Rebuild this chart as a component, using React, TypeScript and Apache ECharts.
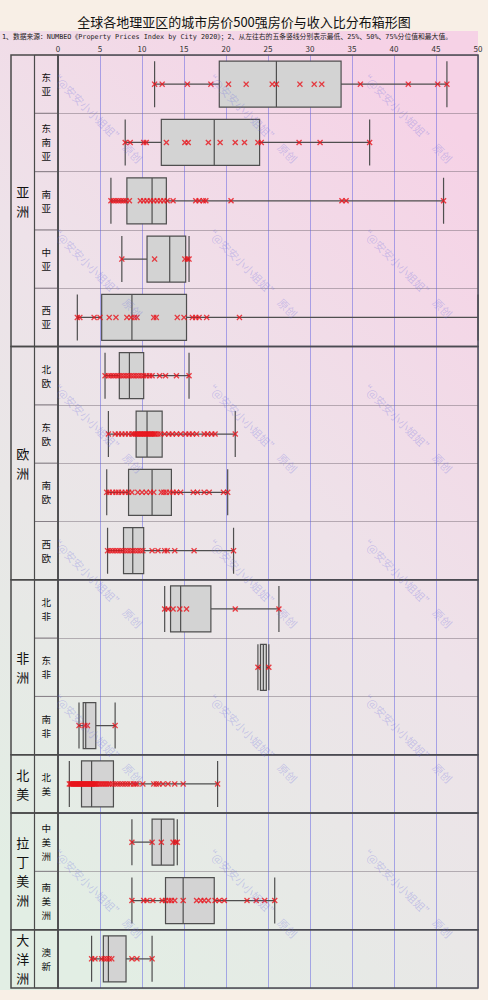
import React, { useEffect, useRef } from "react";
import * as echarts from "echarts";

const titleText = "全球各地理亚区的城市房价500强房价与收入比分布箱形图";
const noteText = "1、数据来源：NUMBEO《Property Prices Index by City 2020》；2、从左往右的五条竖线分别表示最低、25%、50%、75%分位值和最大值。";
const watermarkText = "“@安安小小姐姐”  原创";

const subregions = ["东亚", "东南亚", "南亚", "中亚", "西亚", "北欧", "东欧", "南欧", "西欧", "北非", "东非", "南非", "北美", "中美洲", "南美洲", "澳新"];
const continents = ["亚洲", "欧洲", "非洲", "北美", "拉丁美洲", "大洋洲"];
const continentSizes = [5, 4, 3, 1, 2, 1];

const xTicks = [0, 50, 5]; // min, max, interval

const minVals = [11.5, 8.0, 6.3, 7.6, 2.3, 5.6, 6.0, 5.8, 5.9, 12.7, 23.8, 2.5, 1.35, 8.8, 8.8, 4.0];
const q1Vals = [19.2, 12.3, 8.2, 10.6, 5.2, 7.3, 9.3, 8.4, 7.8, 13.4, 24.1, 3.0, 2.8, 11.2, 12.8, 5.4];
const medVals = [26.0, 18.6, 11.2, 13.3, 8.8, 8.5, 10.6, 11.2, 8.9, 14.6, 24.45, 3.3, 4.0, 12.3, 14.9, 6.0];
const q3Vals = [33.7, 24.0, 12.9, 15.2, 15.3, 10.2, 12.4, 13.5, 10.2, 18.2, 24.8, 4.5, 6.6, 13.8, 18.6, 8.1];
const maxVals = [46.3, 37.1, 45.9, 15.6, 50, 15.6, 21.1, 20.2, 20.9, 26.3, 25.1, 6.8, 19.0, 14.2, 25.8, 11.2];

const ptsEastAsia = [11.5, 12.4, 15.4, 18.2, 20.3, 22.4, 25.5, 26.0, 28.8, 30.5, 31.4, 36.0, 41.7, 45.2, 46.3];
const ptsSoutheastAsia = [8.0, 8.6, 10.2, 10.5, 12.9, 15.1, 15.5, 17.9, 19.3, 21.1, 22.2, 23.8, 24.2, 28.7, 31.2, 37.1];
const ptsSouthAsia = [6.3, 6.6, 6.9, 7.2, 7.5, 7.8, 8.1, 8.5, 9.8, 10.2, 10.6, 11.0, 11.4, 11.8, 12.2, 12.6, 13.0, 13.7, 16.4, 16.8, 17.3, 17.6, 20.6, 33.8, 34.3, 45.9];
const ptsCentralAsia = [7.6, 11.5, 15.1, 15.4, 15.6];
const ptsWestAsia = [2.3, 2.6, 4.3, 5.0, 6.1, 6.9, 8.2, 8.7, 9.1, 9.4, 11.4, 11.7, 14.2, 15.0, 16.0, 16.4, 16.8, 17.7, 21.6];
const ptsNorthEurope = [5.6, 6.0, 6.3, 6.6, 6.9, 7.2, 7.5, 7.8, 8.1, 8.4, 8.7, 9.0, 9.3, 9.6, 9.9, 10.2, 10.5, 10.9, 11.2, 12.1, 12.8, 14.1, 15.6];
const ptsEastEurope = [6.0, 6.8, 7.2, 7.6, 8.0, 8.4, 8.8, 9.0, 9.2, 9.4, 9.5, 9.7, 9.8, 10.0, 10.1, 10.3, 10.4, 10.6, 10.7, 10.9, 11.0, 11.2, 11.3, 11.5, 11.6, 11.9, 12.2, 12.7, 13.2, 13.6, 14.1, 14.6, 15.2, 15.6, 16.0, 16.5, 17.4, 17.8, 18.3, 18.7, 21.1];
const ptsSouthEurope = [5.8, 6.1, 6.5, 6.9, 7.2, 7.6, 8.0, 8.4, 8.8, 9.5, 10.0, 10.5, 11.0, 11.4, 12.3, 12.6, 12.9, 13.3, 13.7, 14.1, 14.6, 16.1, 16.6, 17.4, 18.0, 19.7, 20.2];
const ptsWestEurope = [5.9, 6.2, 6.5, 6.8, 7.1, 7.4, 7.7, 8.0, 8.3, 8.6, 8.9, 9.2, 9.5, 9.8, 10.1, 11.2, 11.9, 12.7, 13.0, 13.9, 16.2, 20.9];
const ptsNorthAfrica = [12.7, 13.1, 13.7, 14.5, 15.3, 21.1, 26.3];
const ptsEastAfrica = [23.8, 25.1];
const ptsSouthAfrica = [2.5, 3.2, 3.5, 6.8];
const ptsNorthAmerica = [1.35, 1.5, 1.6, 1.7, 1.8, 1.9, 2.0, 2.1, 2.2, 2.3, 2.4, 2.5, 2.6, 2.7, 2.8, 2.9, 3.0, 3.1, 3.2, 3.3, 3.4, 3.5, 3.6, 3.7, 3.8, 3.9, 4.0, 4.1, 4.2, 4.3, 4.4, 4.5, 4.6, 4.8, 5.0, 5.2, 5.4, 5.6, 5.8, 6.0, 6.2, 6.5, 6.8, 7.1, 7.4, 7.7, 8.0, 8.3, 8.6, 9.0, 9.2, 9.4, 10.1, 11.4, 11.7, 12.0, 12.5, 13.1, 13.9, 14.9, 19.0];
const ptsCentralAmerica = [8.8, 11.2, 12.3, 13.7, 14.0, 14.2];
const ptsSouthAmerica = [8.8, 10.2, 10.6, 11.3, 12.4, 12.8, 13.2, 13.5, 13.9, 14.9, 16.5, 17.0, 17.4, 17.9, 18.7, 19.2, 19.8, 22.5, 23.6, 24.6, 25.8];
const ptsOceania = [4.0, 4.4, 5.2, 5.5, 5.8, 6.1, 6.4, 8.8, 9.4, 11.2];

const pointsByRow = [ptsEastAsia, ptsSoutheastAsia, ptsSouthAsia, ptsCentralAsia, ptsWestAsia, ptsNorthEurope, ptsEastEurope, ptsSouthEurope, ptsWestEurope, ptsNorthAfrica, ptsEastAfrica, ptsSouthAfrica, ptsNorthAmerica, ptsCentralAmerica, ptsSouthAmerica, ptsOceania];

const CJK = "'Noto Sans CJK SC', 'Noto Sans', sans-serif";
const X_SYMBOL = "path://M0,1.6 L1.6,0 L5,3.4 L8.4,0 L10,1.6 L6.6,5 L10,8.4 L8.4,10 L5,6.6 L1.6,10 L0,8.4 L3.4,5 Z";

export default function App() {
  const ref = useRef<HTMLDivElement>(null);
  useEffect(() => {
    if (!ref.current) return;
    const chart = echarts.init(ref.current, null, { renderer: "svg" });

    const boxData = subregions.map((_, i) => [minVals[i], q1Vals[i], medVals[i], q3Vals[i], maxVals[i]]);
    const scatterData: number[][] = [];
    pointsByRow.forEach((arr, i) => arr.forEach((v) => scatterData.push([v, i])));

    const starts: number[] = [];
    let acc = 0;
    continentSizes.forEach((n) => { starts.push(acc); acc += n; });
    const contData = continents.map((_, i) => [0, starts[i], continentSizes[i]]);
    const subData = subregions.map((_, i) => [1, i]);

    const watermarks: any[] = [];
    const wmX = [52, 207, 362];
    const wmY = [72, 227, 382, 537, 692, 847];
    wmY.forEach((y) => wmX.forEach((x) => {
      watermarks.push({
        type: "text", x, y, rotation: -Math.PI / 4, z: 100, silent: true,
        style: { text: watermarkText, fontSize: 11, fontFamily: CJK, fill: "rgba(110,110,225,0.3)", textVerticalAlign: "middle", verticalAlign: "middle" },
      });
    }));

    const option: any = {
      animation: false,
      backgroundColor: "#f8efe6",
      title: [
        { text: titleText, left: "center", top: 15, padding: 0, textStyle: { fontSize: 13, fontWeight: "normal", color: "#111", fontFamily: CJK } },
        { text: noteText, left: 2, top: 34, padding: 0, textStyle: { fontSize: 6.8, fontWeight: "normal", color: "#222", fontFamily: "'DejaVu Sans Mono', 'Noto Sans CJK SC', monospace" } },
      ],
      graphic: [
        {
          type: "rect", z: -10, silent: true,
          shape: { x: 0, y: 31, width: 478, height: 959 },
          style: {
            fill: new echarts.graphic.LinearGradient(0.75, 0, 0.25, 1, [
              { offset: 0, color: "#f6d2e6" },
              { offset: 0.45, color: "#eee2e9" },
              { offset: 1, color: "#e2eee4" },
            ]),
          },
        },
        ...watermarks,
      ],
      grid: [
        { left: 58, right: 10, top: 55, bottom: 12 },
        { left: 11, width: 47, top: 55, bottom: 12 },
      ],
      xAxis: [
        {
          gridIndex: 0, type: "value", position: "top", min: xTicks[0], max: xTicks[1], interval: xTicks[2],
          axisLine: { show: false }, axisTick: { show: false },
          axisLabel: { fontSize: 8, color: "#333", margin: 3, fontFamily: CJK },
          splitLine: { show: true, lineStyle: { color: "rgba(95,95,225,0.5)", width: 1 } },
        },
        { gridIndex: 1, type: "value", min: 0, max: 2, show: false },
      ],
      yAxis: [
        {
          gridIndex: 0, type: "category", data: subregions, inverse: true,
          axisLine: { show: false }, axisTick: { show: false }, axisLabel: { show: false },
          splitLine: { show: true, lineStyle: { color: "rgba(110,100,110,0.45)", width: 1 } },
        },
        { gridIndex: 1, type: "category", data: subregions, inverse: true, show: false },
      ],
      series: [
        {
          type: "boxplot", xAxisIndex: 0, yAxisIndex: 0, data: boxData, boxWidth: [46, 46], z: 3,
          itemStyle: { color: "#d3d3d3", borderColor: "#4f4f4f", borderWidth: 1.2 },
        },
        {
          type: "scatter", xAxisIndex: 0, yAxisIndex: 0, data: scatterData, symbol: X_SYMBOL, symbolSize: 6, z: 4,
          itemStyle: { color: "#e8141c" },
        },
        {
          type: "custom", xAxisIndex: 0, yAxisIndex: 0, data: contData, z: 5, silent: true,
          encode: { x: 0, y: 1 },
          renderItem: (params: any, api: any) => {
            const s = api.value(1), n = api.value(2);
            const h = api.size([0, 1])[1];
            const p0 = api.coord([0, s]);
            const p1 = api.coord([50, s]);
            return {
              type: "rect",
              shape: { x: p0[0], y: p0[1] - h / 2, width: p1[0] - p0[0], height: h * n },
              style: { fill: "none", stroke: "#4a4a52", lineWidth: 1.5 },
            };
          },
        },
        {
          type: "custom", xAxisIndex: 1, yAxisIndex: 1, data: subData, z: 5, silent: true,
          encode: { x: 0, y: 1 },
          renderItem: (params: any, api: any) => {
            const r = api.value(1);
            const h = api.size([0, 1])[1];
            const p0 = api.coord([1, r]);
            const p1 = api.coord([2, r]);
            const txt = subregions[params.dataIndex].split("").join("\n");
            return {
              type: "group",
              children: [
                { type: "rect", shape: { x: p0[0], y: p0[1] - h / 2, width: p1[0] - p0[0], height: h }, style: { fill: "none", stroke: "rgba(110,100,110,0.55)", lineWidth: 1 } },
                { type: "text", x: (p0[0] + p1[0]) / 2, y: p0[1], style: { text: txt, fontSize: 9.5, lineHeight: 14, fontFamily: CJK, fill: "#111", align: "center", verticalAlign: "middle", textAlign: "center", textVerticalAlign: "middle" } },
              ],
            };
          },
        },
        {
          type: "custom", xAxisIndex: 1, yAxisIndex: 1, data: contData, z: 6, silent: true,
          encode: { x: 0, y: 1 },
          renderItem: (params: any, api: any) => {
            const s = api.value(1), n = api.value(2);
            const h = api.size([0, 1])[1];
            const p0 = api.coord([0, s]);
            const pm = api.coord([1, s]);
            const p1 = api.coord([2, s]);
            const top = p0[1] - h / 2;
            const txt = continents[params.dataIndex].split("").join("\n");
            return {
              type: "group",
              children: [
                { type: "rect", shape: { x: p0[0], y: top, width: p1[0] - p0[0], height: h * n }, style: { fill: "none", stroke: "#4a4a4a", lineWidth: 1.5 } },
                { type: "line", shape: { x1: pm[0], y1: top, x2: pm[0], y2: top + h * n }, style: { stroke: "#4a4a4a", lineWidth: 1.2 } },
                { type: "text", x: (p0[0] + pm[0]) / 2, y: top + (h * n) / 2, style: { text: txt, fontSize: 13, lineHeight: 19, fontFamily: CJK, fill: "#111", align: "center", verticalAlign: "middle", textAlign: "center", textVerticalAlign: "middle" } },
              ],
            };
          },
        },
      ],
    };
    chart.setOption(option);
    return () => chart.dispose();
  }, []);
  return <div ref={ref} style={{ position: "absolute", left: 0, top: 0, width: 488, height: 1000 }} />;
}
